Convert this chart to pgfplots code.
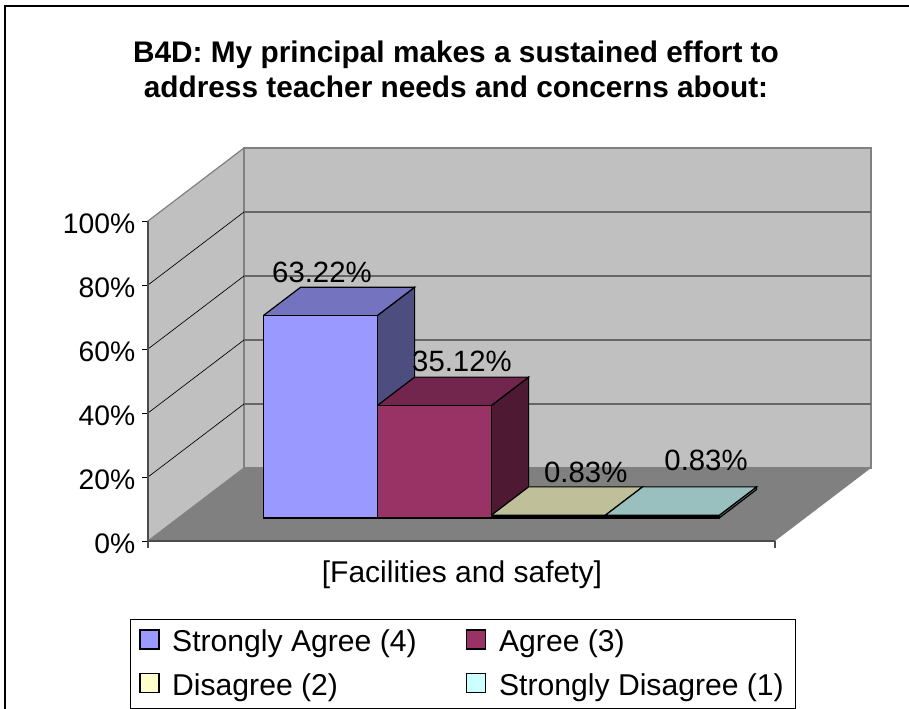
\documentclass[border=0pt]{standalone}
\usepackage{fontspec}
\setmainfont{Liberation Sans}
\usepackage{pgfplots}
\pgfplotsset{compat=1.18}

\definecolor{wall}{HTML}{C0C0C0}
\definecolor{floorc}{HTML}{808080}
\definecolor{barA}{HTML}{9999FF}
\definecolor{barAt}{HTML}{7373BF}
\definecolor{barAs}{HTML}{4D4D80}
\definecolor{barB}{HTML}{993366}
\definecolor{barBt}{HTML}{73264D}
\definecolor{barBs}{HTML}{4D1933}
\definecolor{barC}{HTML}{FFFFCC}
\definecolor{barCt}{HTML}{BFBF99}
\definecolor{barCs}{HTML}{808066}
\definecolor{barD}{HTML}{CCFFFF}
\definecolor{barDt}{HTML}{99BFBF}
\definecolor{barDs}{HTML}{668080}

\pgfplotsset{squarekey/.style={legend image code/.code={
  \draw[draw=black,fill=#1,line width=0.8pt] (0pt,-5.5pt) rectangle (14.25pt,8.75pt);}}}

% one cuboid: left x, right x, value, legend colour, top colour, side colour, front fill
\newcommand{\cuboid}[7]{
  \addplot3[forget plot,no marks,draw=black,line width=0.9pt,fill=#6] coordinates {
    (#2,0.315,0) (#2,0.705,0) (#2,0.705,#3) (#2,0.315,#3) (#2,0.315,0)};
  \addplot3[forget plot,no marks,draw=black,line width=0.9pt,fill=#5] coordinates {
    (#1,0.315,#3) (#2,0.315,#3) (#2,0.705,#3) (#1,0.705,#3) (#1,0.315,#3)};
  \addplot3[no marks,draw=black,line width=0.9pt,fill=#7,squarekey=#4] coordinates {
    (#1,0.315,0) (#2,0.315,0) (#2,0.315,#3) (#1,0.315,#3) (#1,0.315,0)};
}

\begin{document}
\begin{tikzpicture}[x=1pt,y=1pt]
\path[use as bounding box] (0,0) rectangle (681.75,531.75);
\draw[black,line width=0.9pt] (3.75,-5) rectangle (690,527.25);
\node[font=\fontsize{22.35}{26}\selectfont\bfseries,align=center] at (342,479.7) {B4D: My principal makes a sustained effort to\\address teacher needs and concerns about:};
\begin{axis}[
  at={(111pt,126pt)},
  anchor=origin,
  x={(85.5pt,0pt)},
  y={(72pt,54.75pt)},
  z={(0pt,2.4pt)},
  xmin=0,xmax=5.5,
  ymin=0,ymax=1,
  zmin=0,zmax=100,
  hide axis,
  clip=false,
  legend columns=2,
  legend cell align=left,
  legend style={
    at={(axis cs:2.763,0,-38.3)},
    anchor=center,
    draw=black,
    line width=0.7pt,
    font=\fontsize{22.6}{26}\selectfont,
    /tikz/every odd column/.append style={column sep=7.5pt},
    /tikz/every even column/.append style={column sep=35.25pt},
    row sep=11pt,
    inner xsep=7pt,
    inner ysep=6pt,
  },
]
% walls and floor
\addplot3[forget plot,no marks,draw=floorc,line width=0.9pt,fill=wall] coordinates {
  (0,0,0) (0,1,0) (0,1,100) (0,0,100) (0,0,0)};
\addplot3[forget plot,no marks,draw=floorc,line width=0.9pt,fill=wall] coordinates {
  (0,1,0) (5.5,1,0) (5.5,1,100) (0,1,100) (0,1,0)};
\addplot3[forget plot,no marks,draw=none,fill=floorc] coordinates {
  (0,0,0) (5.5,0,0) (5.5,1,0) (0,1,0) (0,0,0)};
% gridlines
\pgfplotsinvokeforeach{20,40,60,80}{
  \addplot3[forget plot,no marks,draw=black,line width=0.5pt] coordinates {(0,0,#1) (0,1,#1)};
  \addplot3[forget plot,no marks,draw=floorc!80!black,line width=0.9pt] coordinates {(0,1,#1) (5.5,1,#1)};
}
\addplot3[forget plot,no marks,draw=black!70,line width=0.9pt] coordinates {(0,0,0) (5.5,0,0)};
% ticks
\pgfplotsinvokeforeach{0,20,40,60,80,100}{
  \addplot3[forget plot,no marks,draw=black,line width=0.6pt] coordinates {(-0.05,0,#1) (0,0,#1)};
  \node[anchor=east,inner sep=0pt,yshift=-1.8pt,font=\fontsize{21.2}{26}\selectfont] at (axis cs:-0.11,0,#1) {#1\%};
}
\addplot3[forget plot,no marks,draw=black!70,line width=0.9pt] coordinates {(0,0,0) (0,0,100)};
\addplot3[forget plot,no marks,draw=black!70,line width=0.9pt] coordinates {(0,0,0) (0,0,-2.2)};
\addplot3[forget plot,no marks,draw=black!70,line width=0.9pt] coordinates {(5.5,0,0) (5.5,0,-2.2)};
% bars
\cuboid{0.745}{1.745}{63.22}{barA}{barAt}{barAs}{barA}
\addlegendentry{Strongly Agree (4)}
\cuboid{1.745}{2.745}{35.12}{barB}{barBt}{barBs}{barB}
\addlegendentry{Agree (3)}
\cuboid{2.745}{3.745}{0.83}{barC}{barCt}{barCs}{black}
\addlegendentry{Disagree (2)}
\cuboid{3.745}{4.745}{0.83}{barD}{barDt}{barDs}{black}
\addlegendentry{Strongly Disagree (1)}
% labels
\node[font=\fontsize{22}{26}\selectfont] at (axis cs:1.526,0,84.06) {63.22\%};
\node[font=\fontsize{22}{26}\selectfont] at (axis cs:2.754,0,56.25) {35.12\%};
\node[font=\fontsize{22}{26}\selectfont] at (axis cs:3.84,0,21.56) {0.83\%};
\node[font=\fontsize{22}{26}\selectfont] at (axis cs:4.895,0,25.3) {0.83\%};
\node[font=\fontsize{22.5}{26}\selectfont] at (axis cs:2.754,0,-10.6) {[Facilities and safety]};
\end{axis}
\end{tikzpicture}
\end{document}
